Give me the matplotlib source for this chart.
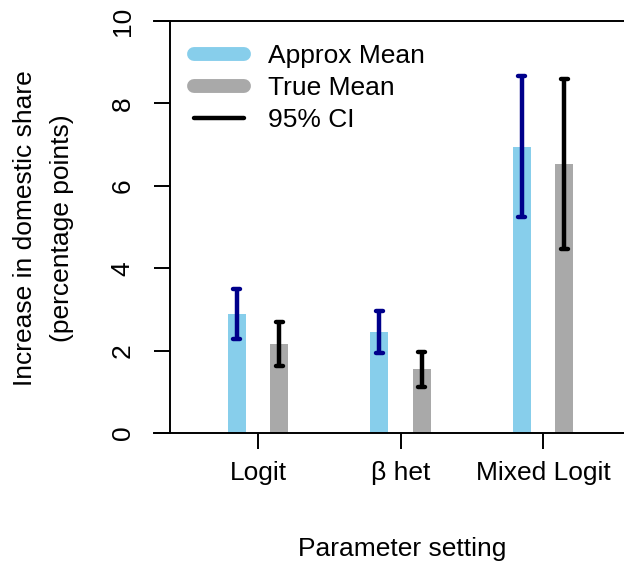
import numpy as np
import matplotlib
matplotlib.use("Agg")
import matplotlib.pyplot as plt
from matplotlib.lines import Line2D

plt.rcParams['font.family'] = ['Liberation Sans', 'DejaVu Sans']

# values
settings = ["Logit", "\u03b2 het", "Mixed Logit"]
approx_mean = [2.88, 2.44, 6.95]
approx_lo = [2.28, 1.93, 5.25]
approx_hi = [3.50, 2.96, 8.66]
true_mean = [2.16, 1.55, 6.54]
true_lo = [1.63, 1.12, 4.47]
true_hi = [2.69, 1.97, 8.60]

col_approx = "#87CEEB"
col_true = "#A9A9A9"
col_ci_approx = "#00008B"
col_ci_true = "black"

W, H = 624, 565
fig = plt.figure(figsize=(W / 100, H / 100), dpi=100)
ax = fig.add_axes([154 / W, 132 / H, (624 - 154) / W, 412 / H])

x = np.arange(1, len(settings) + 1)
off = 0.15
bw = 0.126

ax.bar(x - off, approx_mean, width=bw, color=col_approx, zorder=2)
ax.bar(x + off, true_mean, width=bw, color=col_true, zorder=2)

cap = 0.025
lw_ci = 3.2
for xs, lo, hi, c in [(x - off, approx_lo, approx_hi, col_ci_approx),
                      (x + off, true_lo, true_hi, col_ci_true)]:
    for xi, l, h in zip(xs, lo, hi):
        ax.plot([xi, xi], [l, h], color=c, lw=lw_ci, solid_capstyle='butt', zorder=3)
        ax.plot([xi - cap, xi + cap], [l, l], color=c, lw=lw_ci, solid_capstyle='round', zorder=3)
        ax.plot([xi - cap, xi + cap], [h, h], color=c, lw=lw_ci, solid_capstyle='round', zorder=3)

ax.set_xlim(0.27, 3.568)
ax.set_ylim(0, 10)

ax.spines['right'].set_visible(False)
ax.spines['left'].set_position(('data', 0.382))
for s in ['left', 'top', 'bottom']:
    ax.spines[s].set_linewidth(1.4)

ax.set_yticks([0, 2, 4, 6, 8, 10])
ax.set_yticklabels(["0", "2", "4", "6", "8", "10"], rotation=90, va='center')
ax.set_xticks(x)
ax.set_xticklabels(settings)
ax.tick_params(axis='both', direction='out', length=11.5, width=1.4, labelsize=19)
ax.tick_params(axis='y', pad=14)
ax.tick_params(axis='x', pad=9)

fig.text(402 / W, 1 - 549 / H, "Parameter setting", ha='center', va='center', fontsize=19)
fig.text(25 / W, 1 - 228 / H, "Increase in domestic share", ha='center', va='center',
         rotation=90, fontsize=19)
fig.text(62 / W, 1 - 228 / H, "(percentage points)", ha='center', va='center',
         rotation=90, fontsize=19)

handles = [Line2D([], [], color=col_approx, lw=10, solid_capstyle='round'),
           Line2D([], [], color=col_true, lw=10, solid_capstyle='round'),
           Line2D([], [], color='black', lw=3.2, solid_capstyle='round')]
ax.legend(handles, ["Approx Mean", "True Mean", "95% CI"], loc='upper left',
          bbox_to_anchor=(194 / W, 1 - 44.5 / H), bbox_transform=fig.transFigure,
          frameon=False, fontsize=19, handlelength=1.9, handletextpad=0.9,
          labelspacing=0.3, borderpad=0, borderaxespad=0)

fig.savefig("out.png", dpi=100)
